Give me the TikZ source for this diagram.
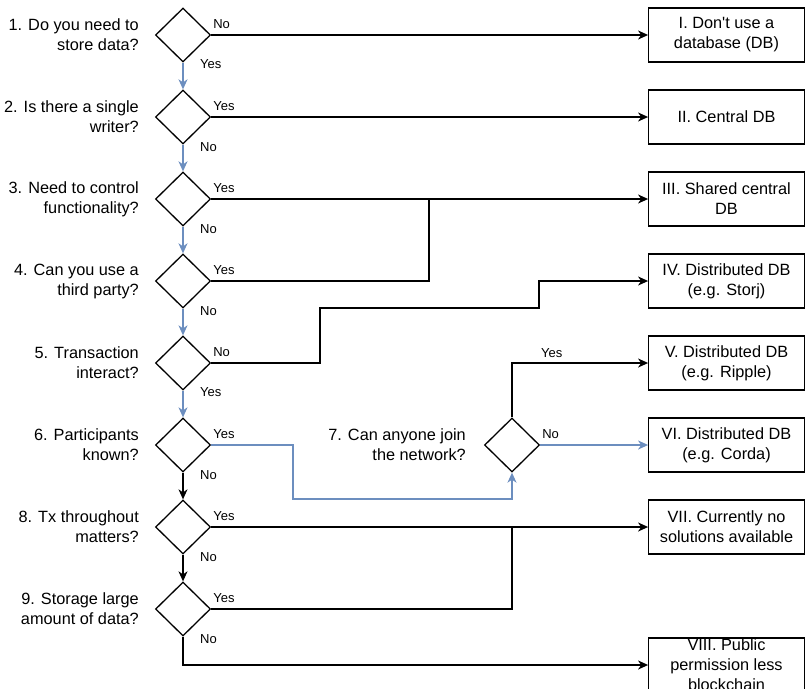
\documentclass[tikz,border=0pt]{standalone}
\usepackage{fontspec}
\setmainfont{Liberation Sans}
\usetikzlibrary{shapes.geometric,arrows.meta}
\definecolor{flowblue}{HTML}{6C8EBF}
\begin{document}
\begin{tikzpicture}[x=1pt,y=-1pt,
  every node/.style={font=\fontsize{16.3}{20}\selectfont},
  decision/.style={draw,diamond,line width=1.3pt,minimum width=55pt,minimum height=54pt,inner sep=0pt},
  outcome/.style={draw,rectangle,line width=1.3pt,minimum width=155.5pt,minimum height=54pt,inner sep=0pt,align=center},
  question/.style={anchor=east,align=right,inner sep=0pt},
  lbl/.style={font=\fontsize{13}{15}\selectfont,inner sep=0pt},
  blk/.style={draw=black,line width=1.3pt,-{Stealth[length=10pt,width=9pt,inset=3pt]}},
  blu/.style={draw=flowblue,line width=1.3pt,-{Stealth[length=10pt,width=9pt,inset=3pt]}},
  plain/.style={draw=black,line width=1.3pt}]
\useasboundingbox (0,0) rectangle (805,688);
\clip (0,0) rectangle (805,688);

% decision diamonds
\node[decision] (d1) at (183,35) {};
\node[decision] (d2) at (183,117) {};
\node[decision] (d3) at (183,199) {};
\node[decision] (d4) at (183,281) {};
\node[decision] (d5) at (183,363) {};
\node[decision] (d6) at (183,445) {};
\node[decision] (d7) at (512,445) {};
\node[decision] (d8) at (183,527) {};
\node[decision] (d9) at (183,609) {};

% questions
\node[question] (q1) at (139,35) {1. Do you need to\\store data?};
\node[question] (q2) at (139,117) {2. Is there a single\\writer?};
\node[question] (q3) at (139,199) {3. Need to control\\functionality?};
\node[question] (q4) at (139,281) {4. Can you use a\\third party?};
\node[question] (q5) at (139,363) {5. Transaction\\interact?};
\node[question] (q6) at (139,445) {6. Participants\\known?};
\node[question] (q7) at (466,445) {7. Can anyone join\\the network?};
\node[question] (q8) at (139,527) {8. Tx throughout\\matters?};
\node[question] (q9) at (139,609) {9. Storage large\\amount of data?};

% outcomes
\node[outcome] (r1) at (726.5,35) {I. Don\textquotesingle t use a\\database (DB)};
\node[outcome] (r2) at (726.5,117) {II. Central DB};
\node[outcome] (r3) at (726.5,199) {III. Shared central\\DB};
\node[outcome] (r4) at (726.5,281) {IV. Distributed DB\\(e.g. Storj)};
\node[outcome] (r5) at (726.5,363) {V. Distributed DB\\(e.g. Ripple)};
\node[outcome] (r6) at (726.5,445) {VI. Distributed DB\\(e.g. Corda)};
\node[outcome] (r7) at (726.5,527) {VII. Currently no\\solutions available};
\node[outcome] (r8) at (726.5,665) {VIII. Public\\permission less\\blockchain};

% bend points
\coordinate (j3) at (429,199);
\coordinate (k1) at (320,308);
\coordinate (k2) at (539,281);
\coordinate (m1) at (293,499);
\coordinate (j7) at (512,527);

% main spine
\draw[blu] (d1.south) -- (d2.north);
\draw[blu] (d2.south) -- (d3.north);
\draw[blu] (d3.south) -- (d4.north);
\draw[blu] (d4.south) -- (d5.north);
\draw[blu] (d5.south) -- (d6.north);
\draw[blk] (d6.south) -- (d8.north);
\draw[blk] (d8.south) -- (d9.north);

% branches to outcomes
\draw[blk] (d1.east) -- (r1.west);
\draw[blk] (d2.east) -- (r2.west);
\draw[blk] (d3.east) -- (r3.west);
\draw[plain] (d4.east) -| (j3);
\draw[blk] (d5.east) -| (k1) -| (k2) -- (r4.west);
\draw[blu] (d6.east) -| (m1) -| (d7.south);
\draw[blk] (d7.north) |- (r5.west);
\draw[blu] (d7.east) -- (r6.west);
\draw[blk] (d8.east) -- (r7.west);
\draw[plain] (d9.east) -| (j7);
\draw[blk] (d9.south) |- (r8.west);

% branch labels
\node[lbl,anchor=base west] at ([xshift=2pt,yshift=7pt]d1.east) {No};
\node[lbl,anchor=base west] at ([xshift=17pt,yshift=-6pt]d1.south) {Yes};
\node[lbl,anchor=base west] at ([xshift=2pt,yshift=7pt]d2.east) {Yes};
\node[lbl,anchor=base west] at ([xshift=17pt,yshift=-7pt]d2.south) {No};
\node[lbl,anchor=base west] at ([xshift=2pt,yshift=7pt]d3.east) {Yes};
\node[lbl,anchor=base west] at ([xshift=17pt,yshift=-7pt]d3.south) {No};
\node[lbl,anchor=base west] at ([xshift=2pt,yshift=7pt]d4.east) {Yes};
\node[lbl,anchor=base west] at ([xshift=17pt,yshift=-7pt]d4.south) {No};
\node[lbl,anchor=base west] at ([xshift=2pt,yshift=7pt]d5.east) {No};
\node[lbl,anchor=base west] at ([xshift=17pt,yshift=-6pt]d5.south) {Yes};
\node[lbl,anchor=base west] at ([xshift=2pt,yshift=7pt]d6.east) {Yes};
\node[lbl,anchor=base west] at ([xshift=17pt,yshift=-7pt]d6.south) {No};
\node[lbl,anchor=base west] at ([xshift=2pt,yshift=7pt]d7.east) {No};
\node[lbl,anchor=base west] at (541,357) {Yes};
\node[lbl,anchor=base west] at ([xshift=2pt,yshift=7pt]d8.east) {Yes};
\node[lbl,anchor=base west] at ([xshift=17pt,yshift=-7pt]d8.south) {No};
\node[lbl,anchor=base west] at ([xshift=2pt,yshift=7pt]d9.east) {Yes};
\node[lbl,anchor=base west] at ([xshift=17pt,yshift=-7pt]d9.south) {No};
\end{tikzpicture}
\end{document}
